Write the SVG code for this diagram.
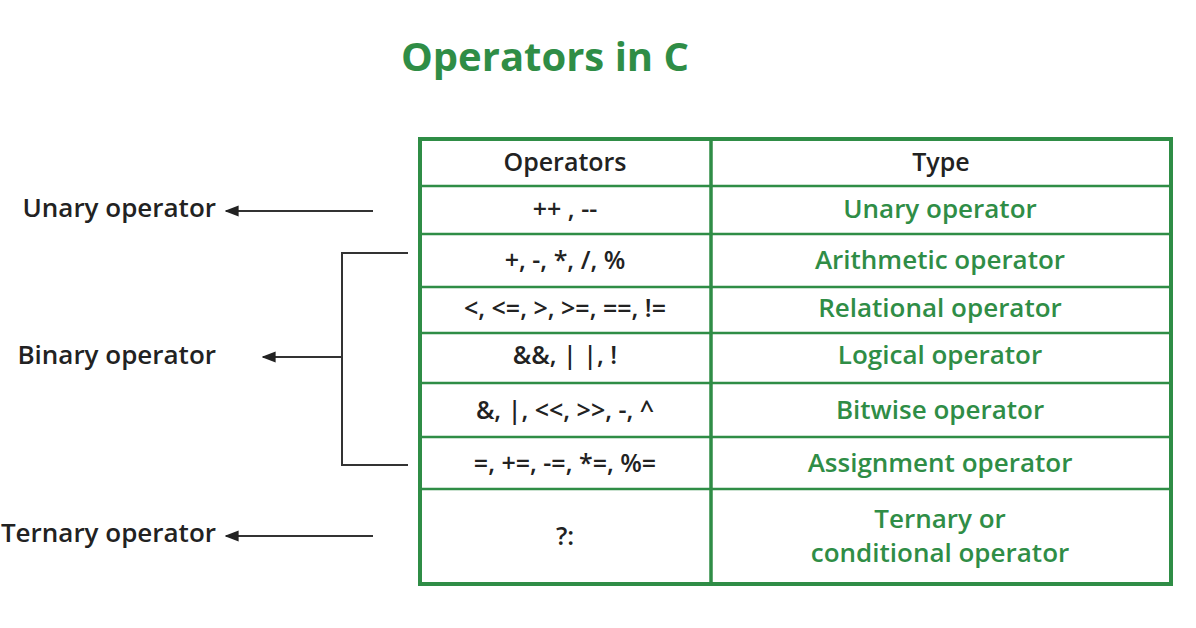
<svg xmlns="http://www.w3.org/2000/svg" width="1196" height="628" viewBox="0 0 1196 628">
<defs>
<marker id="ah" viewBox="0 0 10 10" refX="9" refY="5" markerWidth="7" markerHeight="7" orient="auto"><path d="M10,5 L0,1 L0,9 Z" fill="#222"/></marker>
<style>
text{font-family:"Open Sans","Liberation Sans",sans-serif;font-size:25px;font-weight:600}
.l{fill:#222;text-anchor:end;font-size:26px}
.h{fill:#222;text-anchor:middle}
.o{fill:#222;text-anchor:middle}
.t{fill:#2f8d46;text-anchor:middle;font-size:26px}
.g{stroke:#2f8d46;fill:none}
.c{stroke:#333;stroke-width:2;fill:none}
</style>
</defs>
<rect width="1196" height="628" fill="#fff"/>
<text x="545" y="71" text-anchor="middle" style="font-size:40px;font-weight:bold;fill:#2f8d46">Operators in C</text>
<g id="table">
<rect x="420" y="139" width="751" height="445" class="g" stroke-width="4"/>
<line x1="711" y1="139" x2="711" y2="584" class="g" stroke-width="3.5"/>
<g class="g" stroke-width="2.5">
<line x1="420" y1="186" x2="1171" y2="186"/><line x1="420" y1="234" x2="1171" y2="234"/>
<line x1="420" y1="287" x2="1171" y2="287"/><line x1="420" y1="333" x2="1171" y2="333"/>
<line x1="420" y1="383" x2="1171" y2="383"/><line x1="420" y1="437" x2="1171" y2="437"/>
<line x1="420" y1="489" x2="1171" y2="489"/>
</g>
<text class="h" x="565" y="171">Operators</text><text class="h" x="941" y="171">Type</text>
<text class="o" x="565" y="218">++ , --</text><text class="t" x="940" y="218">Unary operator</text>
<text class="o" x="565" y="269">+, -, *, /, %</text><text class="t" x="940" y="269">Arithmetic operator</text>
<text class="o" x="565" y="317">&lt;, &lt;=, &gt;, &gt;=, ==, !=</text><text class="t" x="940" y="317">Relational operator</text>
<text class="o" x="565" y="364">&amp;&amp;, | |, !</text><text class="t" x="940" y="364">Logical operator</text>
<text class="o" x="565" y="419">&amp;, |, &lt;&lt;, &gt;&gt;, -, ^</text><text class="t" x="940" y="419">Bitwise operator</text>
<text class="o" x="565" y="472">=, +=, -=, *=, %=</text><text class="t" x="940" y="472">Assignment operator</text>
<text class="o" x="565" y="545">?:</text><text class="t" x="940" y="528">Ternary or</text><text class="t" x="940" y="562">conditional operator</text>
</g>
<g id="unary"><text class="l" x="216" y="217">Unary operator</text></g>
<g id="binary"><text class="l" x="216" y="364">Binary operator</text></g>
<g id="ternary"><text class="l" x="216" y="542">Ternary operator</text></g>
<g id="connectors">
<line x1="373" y1="211" x2="226" y2="211" class="c" marker-end="url(#ah)"/>
<polyline points="408,253 342,253 342,465 408,465" class="c"/>
<line x1="342" y1="357" x2="263" y2="357" class="c" marker-end="url(#ah)"/>
<line x1="373" y1="536" x2="226" y2="536" class="c" marker-end="url(#ah)"/>
</g>
</svg>
